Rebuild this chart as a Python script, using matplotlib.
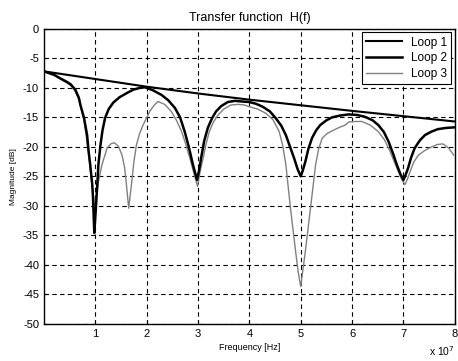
import matplotlib.pyplot as plt

# frequency in units of 1e7 Hz, magnitude in dB
f_loop1 = [0, 1, 2, 3, 4, 5, 6, 7, 8]
h_loop1 = [-7.2, -8.5, -9.8, -10.95, -12.0, -12.95, -13.9, -14.8, -15.7]

f_loop2 = [0, 0.2, 0.32, 0.45, 0.52, 0.61, 0.68, 0.71, 0.78, 0.84, 0.87, 0.9, 0.94, 0.955,
           0.98, 1.01, 1.03, 1.06, 1.1, 1.14, 1.19, 1.26, 1.35, 1.47, 1.61, 1.74, 1.87, 1.97,
           2.12, 2.29, 2.42, 2.55, 2.65, 2.74, 2.82, 2.9, 2.98, 3.02, 3.06, 3.12, 3.19, 3.27,
           3.35, 3.45, 3.58, 3.72, 3.84, 4.0, 4.13, 4.26, 4.4, 4.51, 4.62, 4.71, 4.8, 4.87,
           4.94, 5.0, 5.04, 5.09, 5.15, 5.22, 5.3, 5.38, 5.5, 5.61, 5.76, 5.93, 6.1, 6.25,
           6.4, 6.51, 6.62, 6.71, 6.8, 6.87, 6.94, 7.0, 7.04, 7.09, 7.15, 7.22, 7.32, 7.42,
           7.55, 7.67, 7.82, 7.98, 8.0]
h_loop2 = [-7.2, -7.8, -8.4, -9.0, -9.4, -10.3, -11.7, -12.9, -15.1, -18.0, -20.8, -23.0, -26.4, -28.6,
           -34.6, -30.5, -27.6, -23.0, -19.7, -17.2, -15.1, -13.6, -12.5, -11.6, -10.9, -10.3, -10.0, -9.9,
           -10.4, -11.2, -12.1, -13.4, -15.0, -17.4, -20.0, -23.0, -25.6, -24.0, -21.9, -19.0, -16.8, -15.2,
           -14.0, -13.1, -12.4, -12.2, -12.3, -12.4, -12.7, -13.2, -14.0, -15.1, -16.4, -18.0, -20.2, -21.9,
           -23.8, -25.0, -24.0, -22.5, -20.3, -18.5, -17.2, -16.3, -15.5, -15.0, -14.7, -14.5, -14.6, -14.9,
           -15.5, -16.3, -17.5, -19.1, -21.2, -23.0, -24.6, -25.6, -24.8, -23.6, -21.8, -20.2, -18.9, -18.0,
           -17.4, -17.0, -16.8, -16.7, -16.7]

f_loop3 = [0, 0.2, 0.32, 0.45, 0.52, 0.61, 0.68, 0.78, 0.87, 0.94, 0.99, 1.03, 1.06, 1.13,
           1.23, 1.3, 1.37, 1.45, 1.52, 1.57, 1.6, 1.65, 1.71, 1.75, 1.8, 1.86, 1.93, 2.06,
           2.14, 2.22, 2.35, 2.48, 2.58, 2.68, 2.76, 2.84, 2.92, 2.99, 3.04, 3.1, 3.16, 3.22,
           3.3, 3.39, 3.5, 3.64, 3.78, 3.9, 4.0, 4.16, 4.32, 4.46, 4.58, 4.65, 4.71, 4.8,
           4.9, 4.95, 5.0, 5.04, 5.09, 5.19, 5.29, 5.35, 5.42, 5.52, 5.61, 5.75, 5.87, 5.93,
           6.05, 6.19, 6.35, 6.51, 6.63, 6.74, 6.82, 6.9, 6.97, 7.03, 7.08, 7.13, 7.2, 7.29,
           7.42, 7.55, 7.66, 7.77, 7.88, 7.98]
h_loop3 = [-7.2, -7.9, -8.5, -9.2, -9.6, -10.6, -12.0, -15.5, -21.2, -26.8, -30.3, -28.0, -25.9, -23.0,
           -20.2, -19.5, -19.3, -19.9, -21.4, -23.5, -25.9, -30.4, -25.9, -22.6, -19.7, -17.8, -16.3, -14.0,
           -13.0, -12.3, -12.8, -14.0, -15.5, -17.4, -19.5, -21.9, -24.5, -26.7, -24.2, -21.9, -19.4, -17.4,
           -15.8, -14.6, -13.6, -12.9, -12.8, -12.9, -13.2, -13.6, -14.3, -15.4, -17.4, -19.8, -23.0, -30.4,
           -37.7, -41.2, -43.7, -41.0, -37.7, -30.4, -23.0, -20.3, -18.5, -17.7, -17.3, -16.7, -16.3, -15.8,
           -15.7, -15.7, -16.3, -17.4, -18.8, -20.8, -22.5, -24.2, -25.6, -26.4, -25.4, -24.2, -22.6, -21.4,
           -20.6, -20.0, -19.6, -19.5, -20.2, -21.4]

x_ticks = [1, 2, 3, 4, 5, 6, 7, 8]
y_ticks = [0, -5, -10, -15, -20, -25, -30, -35, -40, -45, -50]

plt.rcParams['font.family'] = ['Liberation Sans', 'DejaVu Sans']
plt.rcParams['axes.unicode_minus'] = False

fig = plt.figure(figsize=(4.58, 3.61), dpi=100)
ax = fig.add_axes([0.096, 0.103, 0.897, 0.817])

ax.plot(f_loop3, h_loop3, color='0.5', lw=1.0, label='Loop 3', zorder=3)
ax.plot(f_loop2, h_loop2, color='black', lw=1.8, label='Loop 2', zorder=4)
ax.plot(f_loop1, h_loop1, color='black', lw=1.5, label='Loop 1', zorder=5)

ax.set_xlim(0, 8)
ax.set_ylim(-50, 0)
ax.set_xticks(x_ticks)
ax.set_yticks(y_ticks)
ax.tick_params(direction='in', length=3, labelsize=8, colors='black')
ax.grid(True, color='black', linestyle=(0, (4, 3)), linewidth=0.8)
for s in ax.spines.values():
    s.set_linewidth(1.0)
    s.set_color('black')

ax.set_title('Transfer function  H(f)', fontsize=9, pad=6)
ax.set_xlabel('Frequency [Hz]', fontsize=6.5, labelpad=3)
ax.set_ylabel('Magnitude [dB]', fontsize=6, labelpad=4)
fig.text(0.993, 0.008, r'x 10$^7$', ha='right', va='bottom', fontsize=7.5)

handles, labels = ax.get_legend_handles_labels()
order = [2, 1, 0]
leg = ax.legend([handles[i] for i in order], [labels[i] for i in order],
                loc='upper right', fontsize=8.5, fancybox=False, framealpha=1,
                edgecolor='black', handlelength=3, borderpad=0.35, labelspacing=0.3,
                borderaxespad=0.3)
leg.get_frame().set_linewidth(0.8)

fig.savefig('out.png', dpi=100)
